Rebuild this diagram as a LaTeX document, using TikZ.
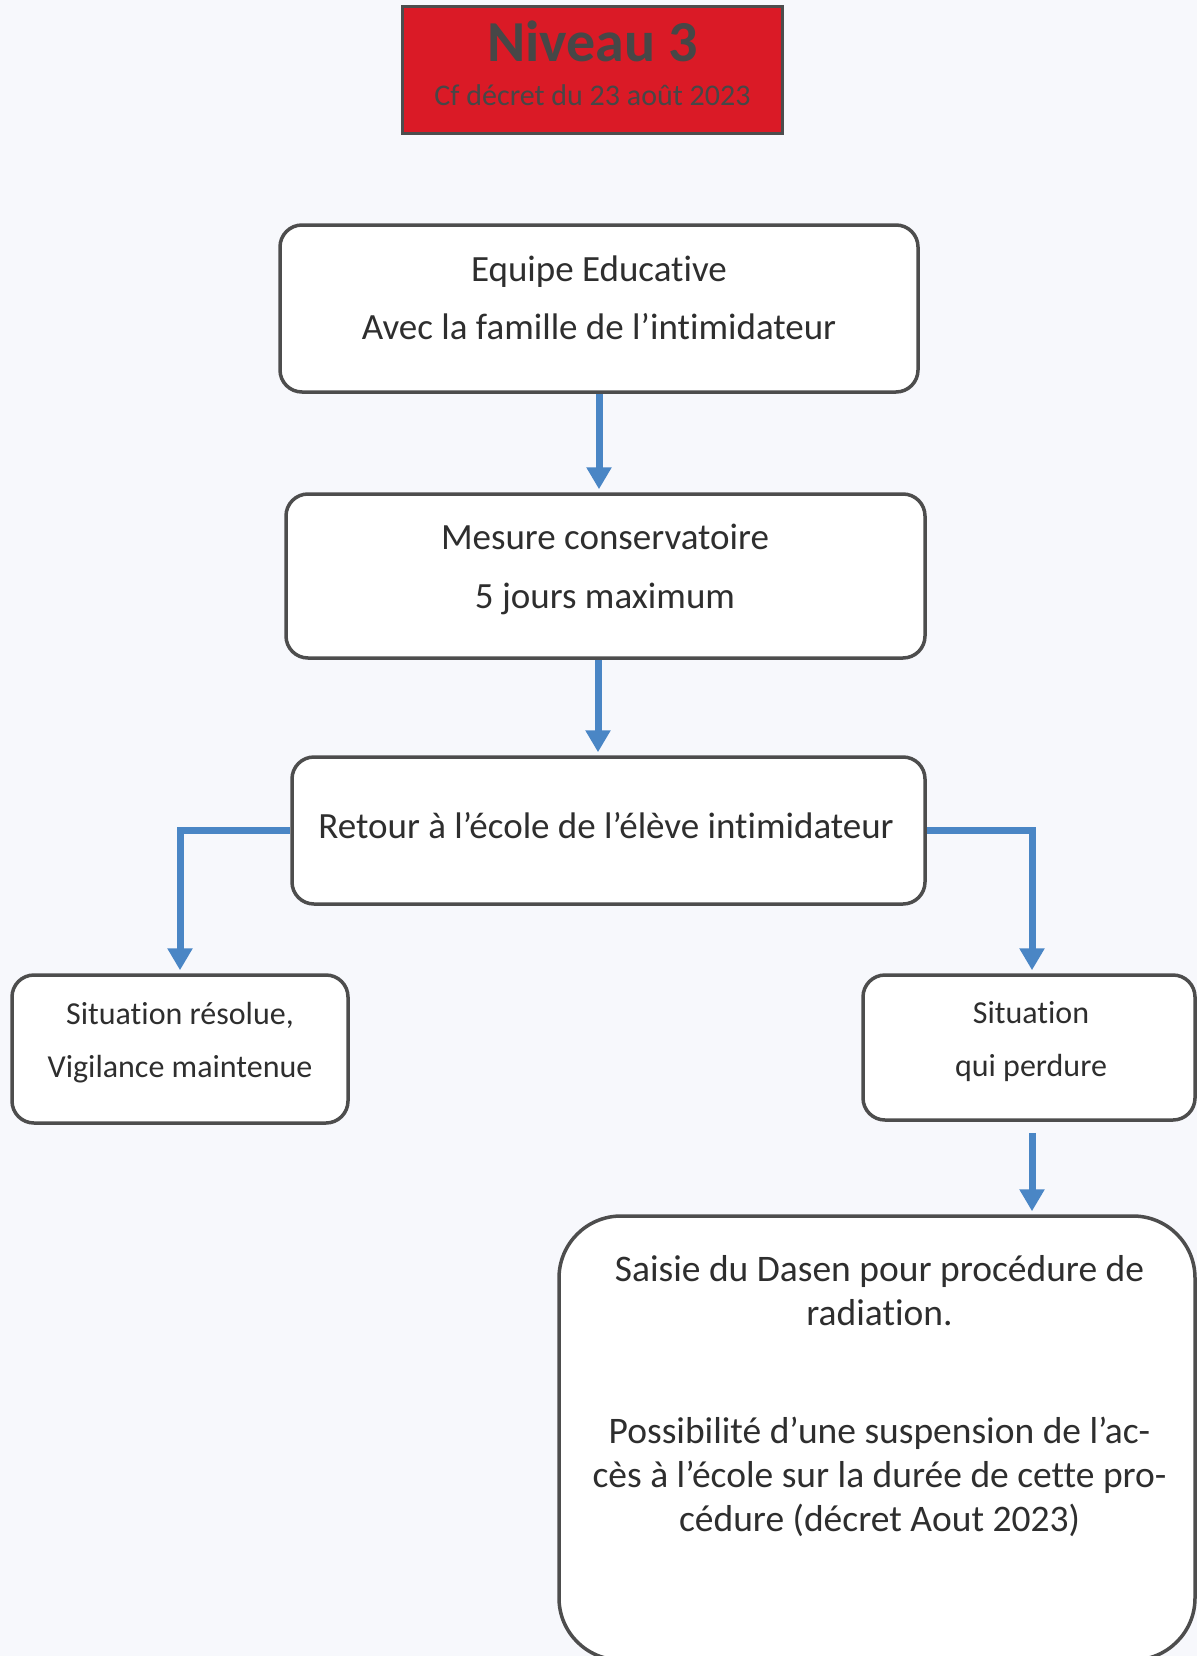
\documentclass[tikz,border=0pt]{standalone}
\usepackage{fontspec}
\setmainfont{Carlito}[Ligatures=NoCommon]
\usetikzlibrary{arrows.meta}
\definecolor{bg}{HTML}{F7F8FC}
\definecolor{boxline}{HTML}{4D4D4D}
\definecolor{arrblue}{HTML}{4A86C5}
\definecolor{titlered}{HTML}{DA1A26}
\definecolor{titletext}{HTML}{474747}
\definecolor{txt}{HTML}{2E2E2E}
\tikzset{
  stepbox/.style={draw=boxline, line width=3.5pt, rounded corners=22pt, fill=white, inner sep=0pt},
  boxtext/.style={text=txt, align=center, inner sep=0pt},
  arr/.style={draw=arrblue, line width=7pt, -{Triangle[width=24pt,length=22pt]}, shorten >=3pt}
}
\begin{document}
\begin{tikzpicture}[x=1pt,y=-1pt]
\fill[bg] (0,0) rectangle (1197,1656);
\useasboundingbox (0,0) rectangle (1197,1656);
\clip (0,0) rectangle (1197,1656);
% title
\node[draw=boxline, line width=3.5pt, fill=titlered, minimum width=380pt, minimum height=127pt, inner sep=0pt] (title) at (592.5,70) {};
\node[text=titletext, font=\fontsize{58}{64}\selectfont\bfseries] (t1) at (592.5,41) {Niveau 3};
\node[text=titletext, font=\fontsize{30}{34}\selectfont] (t2) at (592.5,95) {Cf décret du 23 août 2023};
% boxes
\node[stepbox, minimum width=638pt, minimum height=167pt] (b1) at (599,308.5) {};
\node[boxtext, font=\fontsize{37}{58}\selectfont] (b1t) at (599,298) {Equipe Educative\\Avec la famille de l’intimidateur};
\node[stepbox, minimum width=639pt, minimum height=164pt] (b2) at (605.5,576) {};
\node[boxtext, font=\fontsize{37}{59}\selectfont] (b2t) at (605,569.5) {Mesure conservatoire\\5 jours maximum};
\node[stepbox, minimum width=633pt, minimum height=147pt] (b3) at (608.5,830.5) {};
\node[boxtext, font=\fontsize{37}{40}\selectfont] (b3t) at (606,826) {Retour à l’école de l’élève intimidateur};
\node[stepbox, minimum width=336pt, minimum height=148pt] (left) at (180,1049) {};
\node[boxtext, font=\fontsize{32}{53}\selectfont] (leftt) at (180,1042.5) {Situation résolue,\\Vigilance maintenue};
\node[stepbox, minimum width=332pt, minimum height=145pt] (right) at (1029,1047.5) {};
\node[boxtext, font=\fontsize{32}{53}\selectfont] (rightt) at (1031,1041.5) {Situation\\qui perdure};
\node[stepbox, rounded corners=62pt, minimum width=636pt, minimum height=444pt] (big) at (877,1438) {};
\node[boxtext, font=\fontsize{37.5}{44}\selectfont] (bigt) at (879.5,1396) {Saisie du Dasen pour procédure de\\radiation.\\[74pt]Possibilité d’une suspension de l’ac-\\cès à l’école sur la durée de cette pro-\\cédure (décret Aout 2023)};
% connectors
\draw[arr] (b1.south) -- (b1.south |- b2.north);
\draw[arr] ([xshift=-7.5pt]b2.south) -- ([xshift=-7.5pt]b2.south |- b3.north);
\draw[arr] (b3.west) -| (left.north);
\draw[arr] (b3.east) -| ([xshift=3pt]right.north);
\draw[arr] ([xshift=3pt,yshift=-11pt]right.south) -- ([xshift=3pt]right.south |- big.north);
\end{tikzpicture}
\end{document}
